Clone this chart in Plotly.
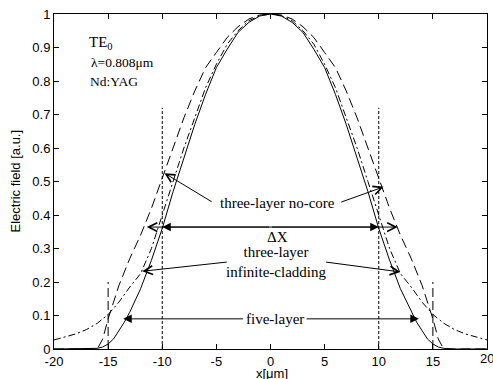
import plotly.graph_objects as go

# ---- data ----
five_x = [-20, -17, -16, -15.5, -15, -14.5, -14, -13.5, -13, -12.5, -12, -11, -10, -9, -8, -7, -6, -5, -4, -3, -2, -1, 0,
          1, 2, 3, 4, 5, 6, 7, 8, 9, 10, 11, 12, 12.5, 13, 13.5, 14, 14.5, 15, 15.5, 16, 17, 20]
five_y = [0, 0, 0.002, 0.006, 0.015, 0.03, 0.055, 0.08, 0.11, 0.145, 0.18, 0.265, 0.36, 0.47, 0.57, 0.67, 0.76, 0.84, 0.895, 0.945, 0.975, 0.994, 1.0,
          0.994, 0.975, 0.945, 0.895, 0.84, 0.76, 0.67, 0.57, 0.47, 0.36, 0.265, 0.18, 0.145, 0.11, 0.08, 0.055, 0.03, 0.015, 0.006, 0.002, 0, 0]

inf_x = [-20, -19, -18, -17, -16, -15, -14, -13, -12, -11, -10, -9, -8, -7, -6, -5, -4, -3, -2, -1, 0,
         1, 2, 3, 4, 5, 6, 7, 8, 9, 10, 11, 12, 13, 14, 15, 16, 17, 18, 19, 20]
inf_y = [0.027, 0.035, 0.045, 0.058, 0.077, 0.103, 0.14, 0.185, 0.225, 0.3, 0.4, 0.5, 0.6, 0.69, 0.78, 0.85, 0.91, 0.95, 0.98, 0.995, 1.0,
         0.995, 0.98, 0.95, 0.91, 0.85, 0.78, 0.69, 0.6, 0.5, 0.4, 0.3, 0.225, 0.185, 0.14, 0.103, 0.077, 0.058, 0.045, 0.035, 0.027]

nocore_x = [-20, -16, -15.5, -15, -14.5, -14, -13, -12, -11, -10, -9, -8, -7, -6, -5, -4, -3, -2, -1, 0,
            1, 2, 3, 4, 5, 6, 7, 8, 9, 10, 11, 12, 13, 14, 14.5, 15, 15.5, 16, 20]
nocore_y = [0, 0, 0.03, 0.09, 0.14, 0.19, 0.27, 0.34, 0.42, 0.51, 0.6, 0.69, 0.77, 0.84, 0.885, 0.93, 0.962, 0.985, 0.997, 1.0,
            0.997, 0.985, 0.962, 0.93, 0.885, 0.84, 0.77, 0.69, 0.6, 0.51, 0.42, 0.34, 0.27, 0.19, 0.14, 0.09, 0.03, 0, 0]

core_edges = [-10, 10]
core_edge_top = 0.72
clad_edges = [-15, 15]
clad_edge_top = 0.2

x_ticks = [-20, -15, -10, -5, 0, 5, 10, 15, 20]
x_tick_text = ["-20", "-15", "-10", "-5", "0", "5", "10", "15", "20"]
y_ticks = [0, 0.1, 0.2, 0.3, 0.4, 0.5, 0.6, 0.7, 0.8, 0.9, 1.0]
y_tick_text = ["0", "0.1", "0.2", "0.3", "0.4", "0.5", "0.6", "0.7", "0.8", "0.9", "1"]

fig = go.Figure()
line_c = "black"
fig.add_trace(go.Scatter(x=nocore_x, y=nocore_y, mode="lines",
                         line=dict(color=line_c, width=1, dash="10px,5px")))
fig.add_trace(go.Scatter(x=inf_x, y=inf_y, mode="lines",
                         line=dict(color=line_c, width=1, dash="7px,3px,2px,3px")))
fig.add_trace(go.Scatter(x=five_x, y=five_y, mode="lines",
                         line=dict(color=line_c, width=1)))
for xe in core_edges:
    fig.add_trace(go.Scatter(x=[xe, xe], y=[0, core_edge_top], mode="lines",
                             line=dict(color=line_c, width=1, dash="3px,2px")))
for xe in clad_edges:
    fig.add_trace(go.Scatter(x=[xe, xe], y=[0, clad_edge_top], mode="lines",
                             line=dict(color=line_c, width=1, dash="9px,4px")))

serif = dict(family="Liberation Serif, Times New Roman, serif", size=15, color="black")
serif_small = dict(family="Liberation Serif, Times New Roman, serif", size=13.5, color="black")
sans = dict(family="Liberation Sans, Arial, sans-serif", size=13, color="black")

ann = []
def arrow(x, y, ax, ay, head, size, side="end"):
    d = dict(x=x, y=y, ax=ax, ay=ay, xref="x", yref="y", axref="x", ayref="y",
             text="", showarrow=True, arrowhead=head, arrowsize=size, arrowwidth=1,
             arrowcolor="black", standoff=0, arrowside=side)
    if side == "end+start":
        d["startarrowhead"] = head
        d["startarrowsize"] = size
        d["startstandoff"] = 0
    ann.append(d)

def label(x, y, text, font=serif):
    ann.append(dict(x=x, y=y, xref="x", yref="y", text=text, showarrow=False,
                    font=font, xanchor="center", yanchor="middle"))

label(-15.7, 0.913, "TE<sub>0</sub>")
label(-13.7, 0.854, "λ=0.808μm", serif_small)
label(-14.5, 0.80, "Nd:YAG", serif_small)

label(0.65, 0.437, "three-layer no-core")
arrow(-9.8, 0.525, -5.3, 0.437, 5, 1.7)
arrow(10.45, 0.484, 6.4, 0.437, 5, 1.7)

label(0.65, 0.335, "ΔX")
arrow(11.75, 0.364, -11.57, 0.364, 5, 1.7, side="end+start")
arrow(10, 0.364, 0, 0.364, 2, 1.7)
arrow(-10, 0.364, 0, 0.364, 2, 1.7)

label(0.5, 0.26, "three-layer<br>infinite-cladding")
arrow(-11.85, 0.232, -3.9, 0.26, 5, 1.7)
arrow(12.0, 0.23, 5.0, 0.26, 5, 1.7)

label(0.42, 0.09, "five-layer")
arrow(-13.6, 0.09, -2.4, 0.09, 2, 1.7)
arrow(13.7, 0.09, 3.2, 0.09, 2, 1.7)

ann.append(dict(x=0, y=0.5, xref="paper", yref="paper", text="Electric field [a.u.]",
                textangle=-90, showarrow=False, font=sans, xanchor="center",
                yanchor="middle", xshift=-39))
ann.append(dict(x=0.503, y=0, xref="paper", yref="paper", text="x[μm]",
                showarrow=False, font=sans, xanchor="center", yanchor="middle",
                yshift=-24))
# last x tick label sits on the right edge of the page (partly clipped in the reference)
ann.append(dict(x=x_ticks[-1], y=0, xref="x", yref="paper", text=x_tick_text[-1],
                showarrow=False, font=sans, xanchor="center", yanchor="middle",
                yshift=-9))

axis_common = dict(showgrid=False, zeroline=False, showline=True, linecolor="black",
                   linewidth=1, mirror="ticks", ticks="inside", ticklen=5,
                   tickcolor="black", tickwidth=1, tickfont=sans, automargin=False,
                   ticklabeloverflow="allow")

fig.update_layout(
    width=493, height=379,
    margin=dict(l=54, r=6, t=14, b=30),
    paper_bgcolor="white", plot_bgcolor="white",
    showlegend=False,
    annotations=ann,
    xaxis=dict(range=[-20, 20], tickvals=x_ticks, ticktext=x_tick_text[:-1] + [""], **axis_common),
    yaxis=dict(range=[0, 1], tickvals=y_ticks, ticktext=y_tick_text, **axis_common),
)

fig.write_html("out.html", config={"displayModeBar": False},
               post_script="document.body.style.margin='0px';")
